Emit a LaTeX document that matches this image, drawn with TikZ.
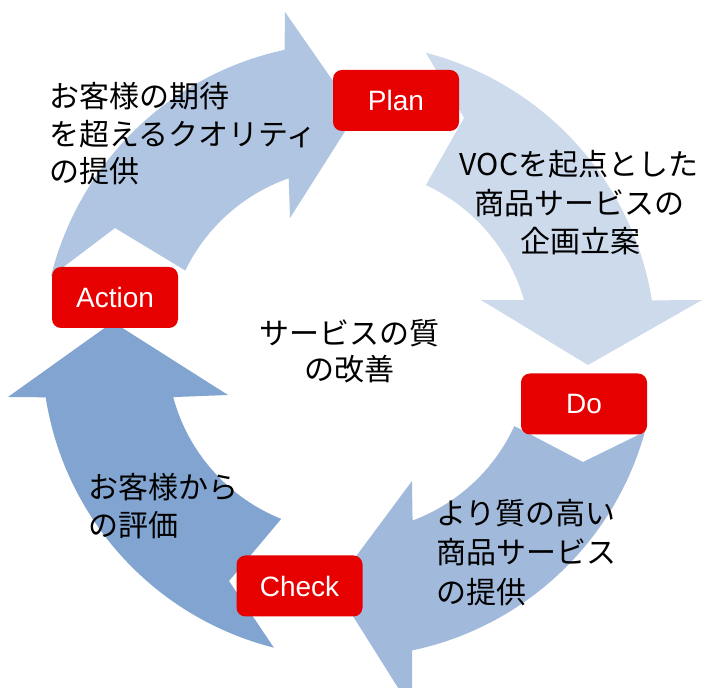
\documentclass[tikz,border=0pt]{standalone}
\usepackage{fontspec}
\setmainfont{Liberation Sans}
\newfontfamily\jpfont{Noto Sans CJK JP}
\definecolor{pdcared}{HTML}{E60000}
\definecolor{arrowA}{HTML}{CCDAEC}
\definecolor{arrowB}{HTML}{A1B9DB}
\definecolor{arrowC}{HTML}{81A4D0}
\definecolor{arrowD}{HTML}{AFC5E1}
\begin{document}
\begin{tikzpicture}[x=1pt,y=1pt,
  pdcabox/.style={fill=pdcared, rounded corners=9pt, minimum width=126pt, minimum height=61pt,
    text=white, font=\fontsize{28}{30}\selectfont, inner sep=0pt},
  jptext/.style={font=\jpfont\fontsize{30}{36}\selectfont, inner sep=0pt, text=black}]
\useasboundingbox (0,0) rectangle (702,688);
\begin{scope}[shift={(349,338)}]
  % Plan -> Do
  \fill[arrowA] (75.5:307) -- (115,232) -- (65:182)
    arc[start angle=65, end angle=15.9, radius=182]
    -- (132,50) -- (239,-15) -- (353,50) -- (9.3:307)
    arc[start angle=9.3, end angle=75.5, radius=307] -- cycle;
  % Do -> Check
  \fill[arrowB] (-15.43:307) -- (234,-112) -- (-24.7:182)
    arc[start angle=-24.7, end angle=-69.56, radius=182]
    -- (63,-131) -- (-15,-236) -- (63,-360) -- (-78.14:307)
    arc[start angle=-78.14, end angle=-15.43, radius=307] -- cycle;
  % Check -> Action
  \fill[arrowC] (255.83:307) -- (-120,-231) -- (248.14:182)
    arc[start angle=248.14, end angle=195, radius=182]
    -- (-121,-45) -- (-236,28) -- (-341,-47) -- (188.87:307)
    arc[start angle=188.87, end angle=255.83, radius=307] -- cycle;
  % Action -> Plan
  \fill[arrowD] (166.14:307) -- (-234,122) -- (154.1:182)
    arc[start angle=154.1, end angle=109.35, radius=182]
    -- (-59,132) -- (7,236) -- (-64,338) -- (102.12:307)
    arc[start angle=102.12, end angle=166.14, radius=307] -- cycle;
\end{scope}
% labels
\node[pdcabox] (plan) at (396,587.5) {Plan};
\node[pdcabox] (do) at (584,284) {Do};
\node[pdcabox] (check) at (299.5,102) {Check};
\node[pdcabox] (action) at (115,390.5) {Action};
% texts
\node[jptext, anchor=base west] (tl1) at (49,580) {お客様の期待};
\node[jptext, anchor=base west] (tl2) at (49,542) {を超えるクオリティ};
\node[jptext, anchor=base west] (tl3) at (49,505) {の提供};
\node[jptext, anchor=base] (tr1) at (579,512) {VOCを起点とした};
\node[jptext, anchor=base] (tr2) at (579,473) {商品サービスの};
\node[jptext, anchor=base] (tr3) at (580,435) {企画立案};
\node[jptext, anchor=base west] (br1) at (436,163) {より質の高い};
\node[jptext, anchor=base west] (br2) at (436,124) {商品サービス};
\node[jptext, anchor=base west] (br3) at (436,84) {の提供};
\node[jptext, anchor=base west] (bl1) at (88,189) {お客様から};
\node[jptext, anchor=base west] (bl2) at (88,151) {の評価};
\node[jptext, anchor=base] (c1) at (349,343) {サービスの質};
\node[jptext, anchor=base] (c2) at (349,307) {の改善};
\end{tikzpicture}
\end{document}
